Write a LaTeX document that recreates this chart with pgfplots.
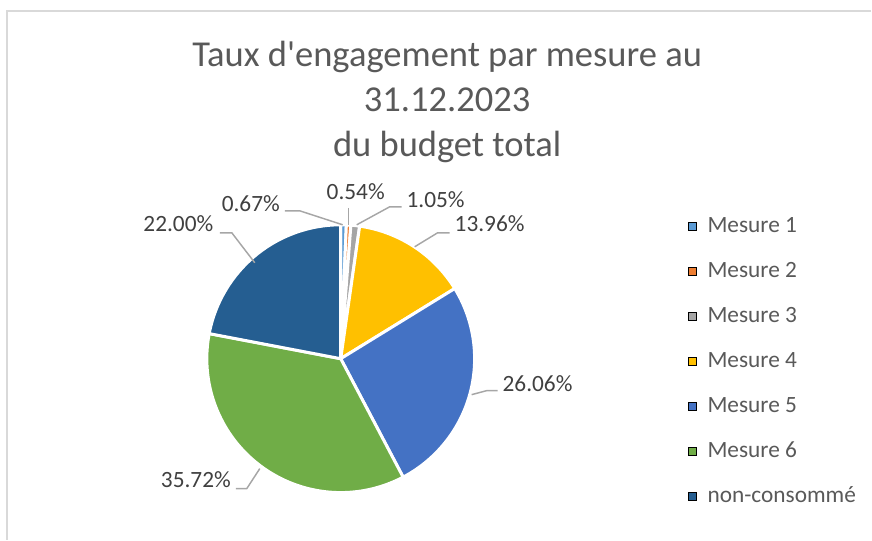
\documentclass[border=0pt]{standalone}
\usepackage{fontspec}
\setmainfont{Carlito}
\usepackage{pgfplots}
\usepackage{pgfplotstable}
\pgfplotsset{compat=1.18}
\definecolor{cMa}{HTML}{5B9BD5}
\definecolor{cMb}{HTML}{ED7D31}
\definecolor{cMc}{HTML}{A5A5A5}
\definecolor{cMd}{HTML}{FFC000}
\definecolor{cMe}{HTML}{4472C4}
\definecolor{cMf}{HTML}{70AD47}
\definecolor{cMg}{HTML}{255E91}
\definecolor{ctitle}{HTML}{595959}
\definecolor{clab}{HTML}{404040}
\definecolor{cline}{HTML}{A6A6A6}
\definecolor{cframe}{HTML}{D9D9D9}

\pgfplotstableread{
label value
M1 0.67
M2 0.54
M3 1.05
M4 13.96
M5 26.06
M6 35.72
NC 22.00
}\piedata

\newcommand\cx{341}
\newcommand\cy{181}
\newcommand\rr{134}

\begin{document}
\begin{tikzpicture}
\pgfmathsetmacro\angA{90}
\pgfplotstablegetelem{0}{value}\of\piedata \pgfmathsetmacro\angB{\angA-3.6*\pgfplotsretval}
\pgfplotstablegetelem{1}{value}\of\piedata \pgfmathsetmacro\angC{\angB-3.6*\pgfplotsretval}
\pgfplotstablegetelem{2}{value}\of\piedata \pgfmathsetmacro\angD{\angC-3.6*\pgfplotsretval}
\pgfplotstablegetelem{3}{value}\of\piedata \pgfmathsetmacro\angE{\angD-3.6*\pgfplotsretval}
\pgfplotstablegetelem{4}{value}\of\piedata \pgfmathsetmacro\angF{\angE-3.6*\pgfplotsretval}
\pgfplotstablegetelem{5}{value}\of\piedata \pgfmathsetmacro\angG{\angF-3.6*\pgfplotsretval}
\pgfplotstablegetelem{6}{value}\of\piedata \pgfmathsetmacro\angH{\angG-3.6*\pgfplotsretval}
\begin{axis}[
  width=654pt, height=405pt, scale only axis,
  xmin=0, xmax=872, ymin=0, ymax=540,
  hide axis, clip=false,
  legend image code/.code={\fill[#1] (0pt,-3pt) rectangle (6pt,3pt);},
  legend cell align=left,
  legend style={draw=none, fill=none, at={(axis cs:684,327)}, anchor=north west,
    font=\fontsize{17.5}{21}\selectfont,
    nodes={inner sep=0pt, text height=12.5pt, text depth=3.5pt, text=ctitle},
    row sep=17.75pt, column sep=8.5pt},
  slice/.style={draw=white, line width=2.25pt, line join=round, forget plot,
    samples at={-1,0,1,...,100,101}, variable=\t},
]
\path (axis cs:0,0) rectangle (axis cs:872,540);
\draw[cframe, line width=1.1pt] (axis cs:7,0) -- (axis cs:7,529) -- (axis cs:872,529);

\addplot[slice, fill=cMa] ({\cx + and(\t>=0,\t<=100)*\rr*cos(\angA+(\angB-\angA)*\t/100)}, {\cy + and(\t>=0,\t<=100)*\rr*sin(\angA+(\angB-\angA)*\t/100)});
\addplot[slice, fill=cMb] ({\cx + and(\t>=0,\t<=100)*\rr*cos(\angB+(\angC-\angB)*\t/100)}, {\cy + and(\t>=0,\t<=100)*\rr*sin(\angB+(\angC-\angB)*\t/100)});
\addplot[slice, fill=cMc] ({\cx + and(\t>=0,\t<=100)*\rr*cos(\angC+(\angD-\angC)*\t/100)}, {\cy + and(\t>=0,\t<=100)*\rr*sin(\angC+(\angD-\angC)*\t/100)});
\addplot[slice, fill=cMd] ({\cx + and(\t>=0,\t<=100)*\rr*cos(\angD+(\angE-\angD)*\t/100)}, {\cy + and(\t>=0,\t<=100)*\rr*sin(\angD+(\angE-\angD)*\t/100)});
\addplot[slice, fill=cMe] ({\cx + and(\t>=0,\t<=100)*\rr*cos(\angE+(\angF-\angE)*\t/100)}, {\cy + and(\t>=0,\t<=100)*\rr*sin(\angE+(\angF-\angE)*\t/100)});
\addplot[slice, fill=cMf] ({\cx + and(\t>=0,\t<=100)*\rr*cos(\angF+(\angG-\angF)*\t/100)}, {\cy + and(\t>=0,\t<=100)*\rr*sin(\angF+(\angG-\angF)*\t/100)});
\addplot[slice, fill=cMg] ({\cx + and(\t>=0,\t<=100)*\rr*cos(\angG+(\angH-\angG)*\t/100)}, {\cy + and(\t>=0,\t<=100)*\rr*sin(\angG+(\angH-\angG)*\t/100)});

\addlegendimage{fill=cMa}\addlegendentry{Mesure 1}
\addlegendimage{fill=cMb}\addlegendentry{Mesure 2}
\addlegendimage{fill=cMc}\addlegendentry{Mesure 3}
\addlegendimage{fill=cMd}\addlegendentry{Mesure 4}
\addlegendimage{fill=cMe}\addlegendentry{Mesure 5}
\addlegendimage{fill=cMf}\addlegendentry{Mesure 6}
\addlegendimage{fill=cMg}\addlegendentry{non-consommé}

% title
\begin{scope}[every node/.style={anchor=base, text=ctitle, font=\fontsize{27.4}{33}\selectfont, inner sep=0pt}]
\node at (axis cs:447.5,473) {Taux d\textquotesingle engagement par mesure au};
\node at (axis cs:447.5,428) {31.12.2023};
\node at (axis cs:447.5,383) {du budget total};
\end{scope}

% leader lines
\begin{scope}[cline, line width=1.1pt]
\draw (axis cs:285,329) -- (axis cs:300,329) -- (axis cs:343,315);
\draw (axis cs:349,332) -- (axis cs:349,315);
\draw (axis cs:402,333) -- (axis cs:390,333) -- (axis cs:357,315);
\draw (axis cs:450,307) -- (axis cs:438,307) -- (axis cs:415,293);
\draw (axis cs:498,149) -- (axis cs:487,149) -- (axis cs:472,145);
\draw (axis cs:236,51) -- (axis cs:247,51) -- (axis cs:260,71);
\draw (axis cs:220,307) -- (axis cs:232,307) -- (axis cs:255,277);
\end{scope}

% data labels
\begin{scope}[every node/.style={anchor=base, text=clab, font=\fontsize{17.5}{21}\selectfont, inner sep=0pt}]
\node at (axis cs:251,328) {0.67\%};
\node at (axis cs:356,340) {0.54\%};
\node at (axis cs:436,332) {1.05\%};
\node at (axis cs:490,308) {13.96\%};
\node at (axis cs:538,148) {26.06\%};
\node at (axis cs:196,52) {35.72\%};
\node at (axis cs:178.5,308) {22.00\%};
\end{scope}
\end{axis}
\end{tikzpicture}
\end{document}
